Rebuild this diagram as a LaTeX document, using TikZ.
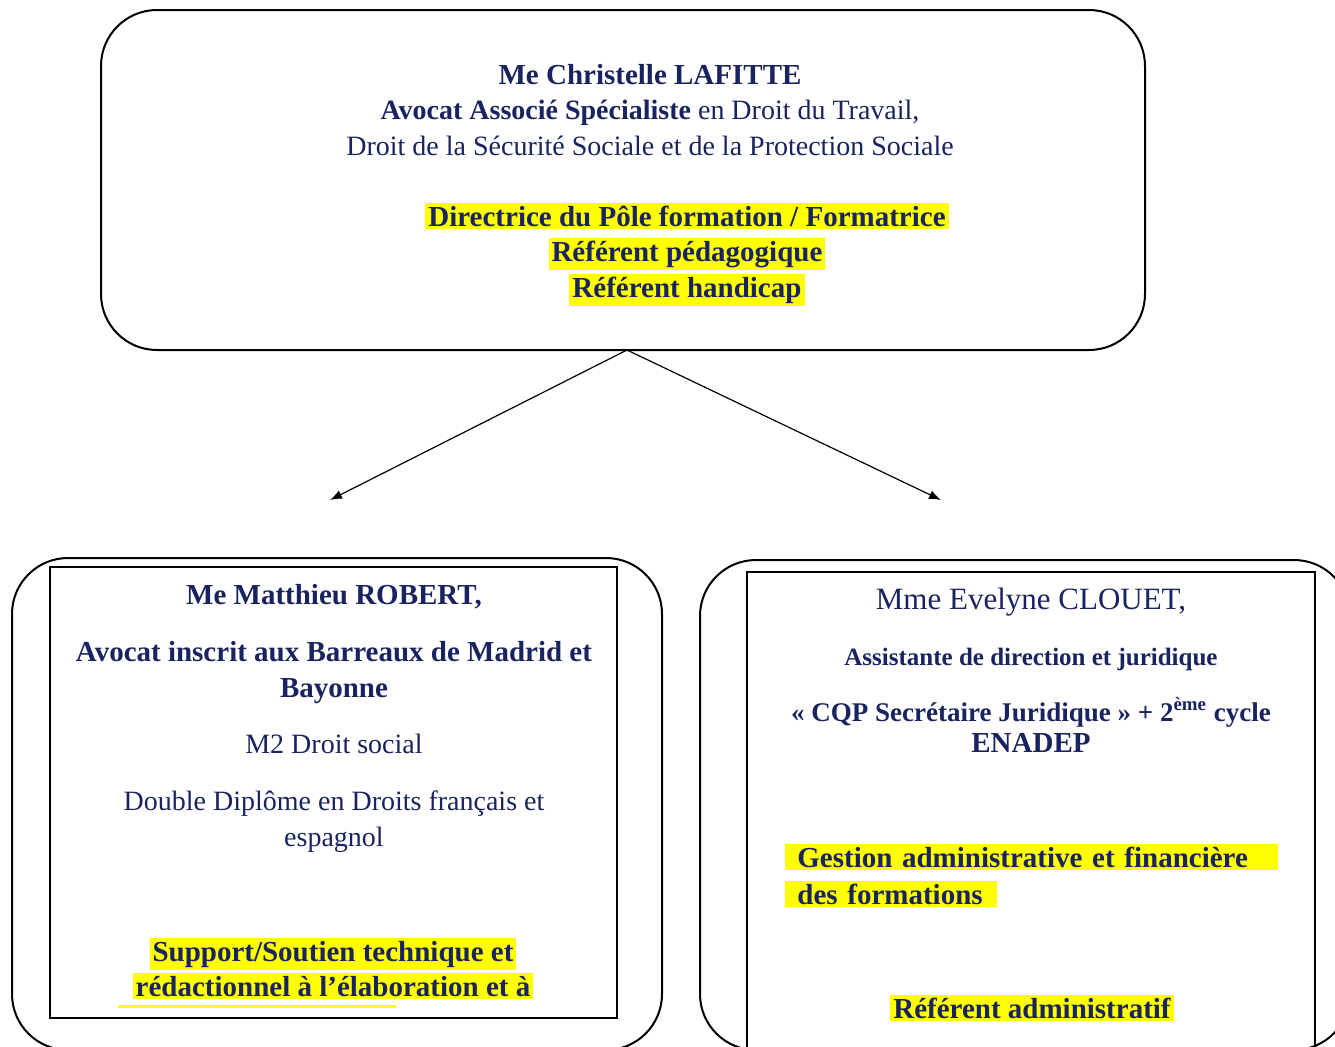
\documentclass[tikz,border=0pt]{standalone}
\usepackage{fontspec}
\setmainfont{Liberation Serif}
\usetikzlibrary{arrows.meta}

\definecolor{navy}{RGB}{25,35,95}
\definecolor{surligne}{RGB}{255,255,0}

\begin{document}
\begin{tikzpicture}[x=0.5pt,y=-0.5pt,
    bulle/.style={draw, line width=1pt, rounded corners=28pt, outer sep=0pt, inner sep=0pt},
    cadre/.style={draw, line width=0.8pt, outer sep=0pt, inner sep=0pt},
    ligne/.style={anchor=base, text=navy, inner sep=1.5pt, font=\fontsize{14}{17}\selectfont},
    gras/.style={ligne, font=\fontsize{14.5}{17}\selectfont\bfseries},
    surl/.style={gras, fill=surligne},
    fleche/.style={-{Latex[length=6pt,width=4.5pt]}, line width=0.6pt}]

  \useasboundingbox (0,0) rectangle (1335,1046);
  \clip (0,0) rectangle (1335,1046);

  % les cadres
  \node[bulle, minimum width=522pt, minimum height=170pt] (chef) at (623,180) {};
  \node[bulle, minimum width=325pt, minimum height=246pt] (gauche) at (337,804) {};
  \node[bulle, minimum width=325pt, minimum height=245pt] (droite) at (1025,805) {};
  \node[cadre, minimum width=283.5pt, minimum height=225.5pt] (cadreg) at (333.5,792.5) {};
  \node[cadre, minimum width=284pt, minimum height=244pt] (cadred) at (1031,816) {};

  % Me LAFITTE
  \node[gras]  (c1) at (650,84)  {Me Christelle LAFITTE};
  \node[ligne] (c2) at (650,119) {\textbf{Avocat Associé Spécialiste} en Droit du Travail,};
  \node[ligne] (c3) at (650,155) {Droit de la Sécurité Sociale et de la Protection Sociale};
  \node[surl]  (c4) at (687,226) {Directrice du Pôle formation / Formatrice};
  \node[surl]  (c5) at (687,261) {Référent pédagogique};
  \node[surl]  (c6) at (687,297) {Référent handicap};

  % Me ROBERT
  \node[gras]  (r1) at (334,604) {Me Matthieu ROBERT,};
  \node[gras]  (r2) at (334,661) {Avocat inscrit aux Barreaux de Madrid et};
  \node[gras]  (r3) at (334,697) {Bayonne};
  \node[ligne] (r4) at (334,753) {M2 Droit social};
  \node[ligne] (r5) at (334,810) {Double Diplôme en Droits français et};
  \node[ligne] (r6) at (334,846) {espagnol};
  \node[surl]  (r7) at (333,961) {Support/Soutien technique et};
  \node[surl]  (r8) at (333,996) {rédactionnel à l’élaboration et à};
  \fill[surligne] (118,1005) rectangle (396,1008);

  % Mme CLOUET
  \node[ligne, font=\fontsize{15.5}{18}\selectfont] (e1) at (1031,609) {Mme Evelyne CLOUET,};
  \node[gras, font=\fontsize{12.5}{15}\selectfont\bfseries] (e2) at (1031,665) {Assistante de direction et juridique};
  \node[gras, font=\fontsize{13.5}{16}\selectfont\bfseries] (e3) at (1031,721) {«~CQP Secrétaire Juridique~» + 2\textsuperscript{ème} cycle};
  \node[gras]  (e4) at (1031,752) {ENADEP};
  \node[surl, anchor=base west, text width=234.5pt, align=left, inner xsep=6pt] (e5) at (785,867) {Gestion administrative et financière};
  \node[surl, anchor=base west, text width=94pt, align=left, inner xsep=6pt] (e6) at (785,904) {des formations};
  \node[surl]  (e7) at (1032,1018) {Référent administratif};

  % liens
  \coordinate (versg) at (330,500);
  \coordinate (versd) at (941,500);
  \draw[fleche] ([xshift=2pt]chef.south) -- (versg);
  \draw[fleche] ([xshift=2pt]chef.south) -- (versd);

\end{tikzpicture}
\end{document}
